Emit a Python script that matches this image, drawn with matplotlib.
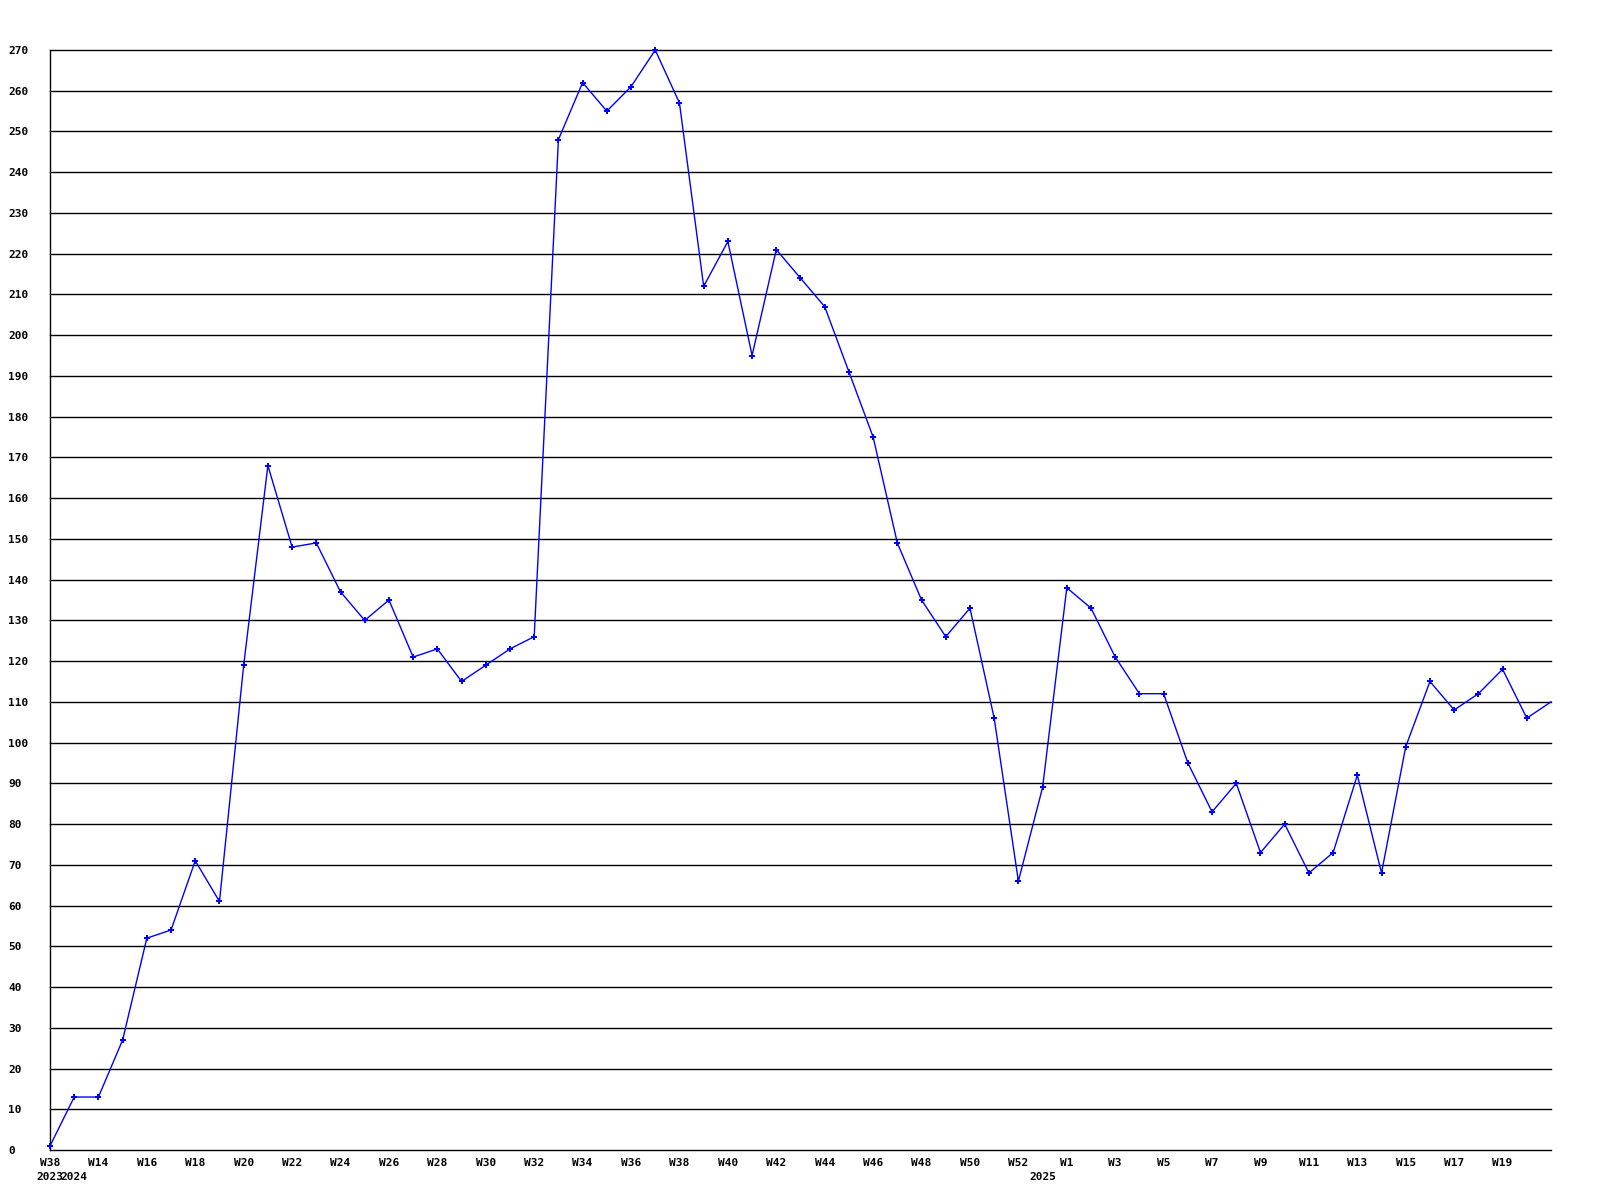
import matplotlib
matplotlib.use('Agg')
import matplotlib.pyplot as plt

weeks = ['W38'] + ['W%d' % w for w in range(13, 53)] + ['W0'] + ['W%d' % w for w in range(1, 22)]
years = {0: '2023', 1: '2024', 41: '2025'}
values = [1, 13, 13, 27, 52, 54, 71, 61, 119, 168,
          148, 149, 137, 130, 135, 121, 123, 115, 119, 123,
          126, 248, 262, 255, 261, 270, 257, 212, 223, 195,
          221, 214, 207, 191, 175, 149, 135, 126, 133, 106,
          66, 89, 138, 133, 121, 112, 112, 95, 83, 90,
          73, 80, 68, 73, 92, 68, 99, 115, 108, 112,
          118, 106, 110]
yticks = list(range(0, 271, 10))

plt.rcParams['font.family'] = 'DejaVu Sans Mono'
plt.rcParams['font.weight'] = 'bold'
plt.rcParams['font.size'] = 8

fig = plt.figure(figsize=(16, 12), dpi=100)
ax = fig.add_axes([50/1600, 50/1200, (1551-50)/1600, (1150-50)/1200])

x = list(range(len(values)))
for y in yticks:
   ax.axhline(y, color='black', lw=1.0, zorder=1, clip_on=False)
ax.plot(x, values, color='#0000ff', lw=1, zorder=3, clip_on=False)
# last point has no marker
ax.plot(x[:-1], values[:-1], ls='none', marker='P', ms=5, color='#0000ff', mew=0, zorder=4, clip_on=False)

ax.set_xlim(0, len(values)-1)
ax.set_ylim(0, 270)
for s in ['top', 'right', 'bottom']:
   ax.spines[s].set_visible(False)
ax.spines['left'].set_linewidth(1.0)

labels = []
for i, w in enumerate(weeks):
   top = w if (i % 2 == 0 and i < len(weeks)-1) else ''
   labels.append(top + '\n' + years.get(i, ''))
ax.set_xticks(x)
ax.set_xticklabels(labels, linespacing=1.4)
ax.set_yticks(yticks)
ax.set_yticklabels([str(v) for v in yticks], ha='left')
ax.tick_params(axis='both', length=0)
ax.tick_params(axis='x', pad=6)
ax.tick_params(axis='y', pad=30)

fig.savefig('out.png', dpi=100, facecolor='white')
